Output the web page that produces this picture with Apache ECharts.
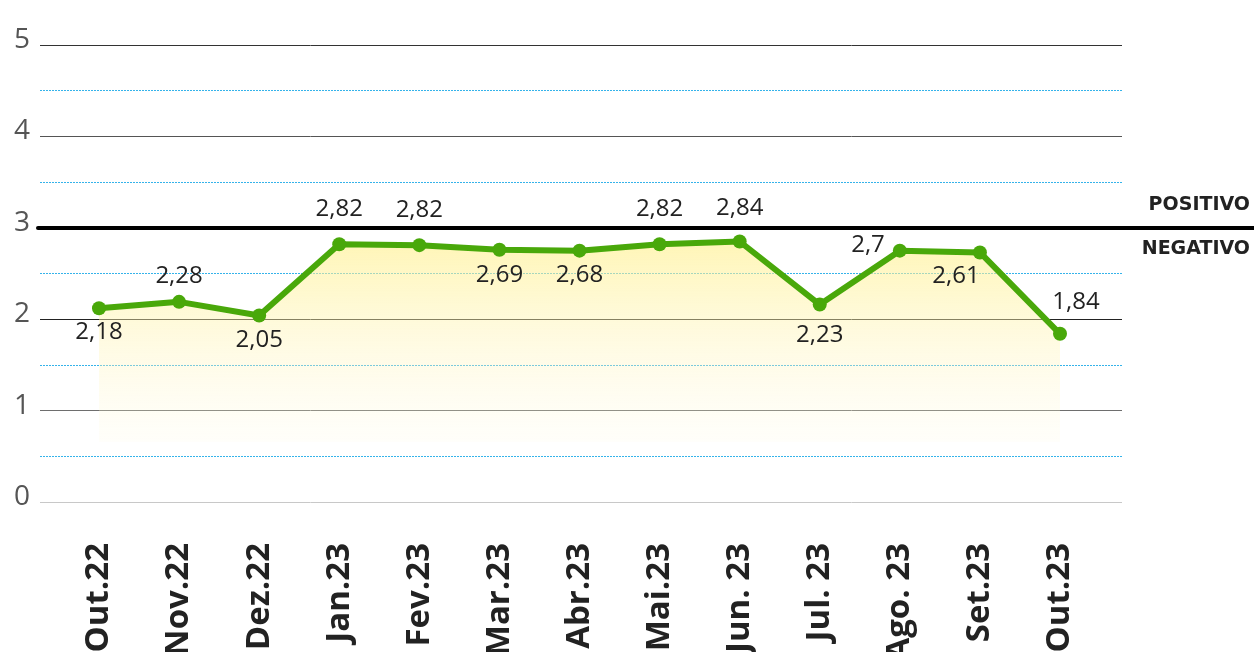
<!DOCTYPE html>
<html>
<head>
<meta charset="utf-8">
<script src="https://cdn.jsdelivr.net/npm/echarts@6/dist/echarts.min.js"></script>
<style>
    html, body { margin: 0; padding: 0; background: #fff; }
    #chart { width: 1254px; height: 652px; }
</style>
</head>
<body>
<div id="chart"></div>
<script>
// meses e valores do índice
const months = ['Out.22', 'Nov.22', 'Dez.22', 'Jan.23', 'Fev.23', 'Mar.23', 'Abr.23',
    'Mai.23', 'Jun. 23', 'Jul. 23', 'Ago. 23', 'Set.23', 'Out.23']
const values = [2.12, 2.19, 2.04, 2.82, 2.81, 2.76, 2.75, 2.82, 2.85, 2.16, 2.75, 2.73, 1.84]
const valueLabels = ['2,18', '2,28', '2,05', '2,82', '2,82', '2,69', '2,68',
    '2,82', '2,84', '2,23', '2,7', '2,61', '1,84']
const yTicks = [0, 1, 2, 3, 4, 5]
const neutral = 3

const chart = echarts.init(document.getElementById('chart'))

const labelCfg = [
    { position: 'bottom', distance: 5 },
    { position: 'top', distance: 7 },
    { position: 'bottom', distance: 6 },
    { position: 'top', distance: 16 },
    { position: 'top', distance: 16 },
    { position: 'bottom', distance: 6 },
    { position: 'bottom', distance: 6 },
    { position: 'top', distance: 16 },
    { position: 'top', distance: 14 },
    { position: 'bottom', distance: 12 },
    { position: 'left', distance: 8, offset: [0, -5] },
    { position: 'bottom', distance: 5, offset: [-24, 0] },
    { position: 'top', distance: 13, offset: [16, 0] }
]

const gridBase = { top: 45, bottom: 150, outerBoundsMode: 'none', containLabel: false }

const option = {
    animation: false,
    grid: [
        Object.assign({ left: 99, right: 194 }, gridBase),
        Object.assign({ left: 40, right: 132 }, gridBase),
        Object.assign({ left: 38, right: 0 }, gridBase)
    ],
    xAxis: [
        {
            gridIndex: 0,
            type: 'category',
            boundaryGap: false,
            data: months,
            axisLine: { show: false },
            axisTick: { show: false },
            axisLabel: {
                rotate: 90,
                margin: 41,
                color: '#222',
                fontSize: 33,
                fontWeight: 'bold',
                fontFamily: 'Open Sans'
            }
        },
        { gridIndex: 1, type: 'value', show: false },
        { gridIndex: 2, type: 'value', show: false }
    ],
    yAxis: [
        { gridIndex: 0, type: 'value', min: 0, max: 5, show: false },
        {
            gridIndex: 1,
            type: 'value',
            position: 'left',
            min: 0,
            max: 5,
            interval: 0.5,
            axisLine: { show: false },
            axisTick: { show: false },
            axisLabel: { show: false },
            splitLine: {
                lineStyle: {
                    color: ['transparent', '#35b3ea'],
                    type: [2, 1],
                    width: 1
                }
            }
        },
        {
            gridIndex: 1,
            type: 'value',
            position: 'left',
            min: 0,
            max: 5,
            interval: 1,
            axisLine: { show: false },
            axisTick: { show: false },
            axisLabel: {
                margin: 10,
                color: '#555',
                fontSize: 28,
                fontFamily: 'Open Sans',
                verticalAlign: 'bottom',
                lineHeight: 10,
                formatter: v => (yTicks.indexOf(v) >= 0 ? String(v) : '')
            },
            splitLine: {
                lineStyle: {
                    color: ['#c8c8c8', '#6e6e6e', '#222', 'transparent', '#555', '#333'],
                    width: 1
                }
            }
        },
        {
            gridIndex: 2,
            type: 'value',
            min: 0,
            max: 5,
            interval: neutral,
            axisLine: { show: false },
            axisTick: { show: false },
            axisLabel: { show: false },
            splitLine: {
                lineStyle: {
                    color: ['transparent', '#000', 'transparent'],
                    width: 4,
                    cap: 'round'
                }
            }
        }
    ],
    graphic: [
        {
            type: 'text',
            right: 4,
            top: 196,
            style: { text: 'POSITIVO', fill: '#222', font: 'bold 19px "DejaVu Sans"' }
        },
        {
            type: 'text',
            right: 4,
            top: 240,
            style: { text: 'NEGATIVO', fill: '#222', font: 'bold 19px "DejaVu Sans"' }
        }
    ],
    series: [
        {
            type: 'line',
            xAxisIndex: 0,
            yAxisIndex: 0,
            data: values.map((v, i) => ({
                value: v,
                label: Object.assign({ show: true }, labelCfg[i])
            })),
            symbol: 'circle',
            symbolSize: 14,
            itemStyle: { color: '#49a80a' },
            lineStyle: { color: '#49a80a', width: 6 },
            label: {
                show: true,
                color: '#222',
                fontSize: 24,
                fontFamily: 'Open Sans',
                formatter: p => valueLabels[p.dataIndex]
            },
            areaStyle: {
                origin: 0.66,
                color: new echarts.graphic.LinearGradient(0, 0, 0, 1, [
                    { offset: 0, color: 'rgba(255, 240, 140, 0.9)' },
                    { offset: 1, color: 'rgba(255, 250, 225, 0.25)' }
                ])
            },
            z: 5
        }
    ]
}

chart.setOption(option)
</script>
</body>
</html>
